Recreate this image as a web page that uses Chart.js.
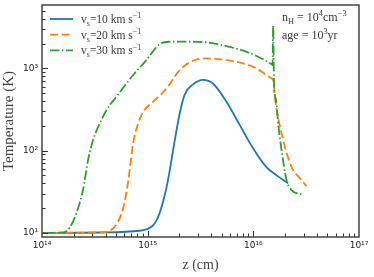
<!DOCTYPE html>
<html><head><meta charset="utf-8">
<script src="https://cdn.jsdelivr.net/npm/chart.js@4.4.1/dist/chart.umd.min.js"></script>
<style>html,body{margin:0;padding:0;background:#fff;overflow:hidden}</style>
</head><body>
<canvas id="c" width="374" height="277"></canvas>
<script>
// ---- data ----
const shockSpeeds = [10, 20, 30];
const zBlue = [1e14, 3.5e14, 8.4e14, 9.7e14, 1.05e15, 1.125e15, 1.2e15, 1.30e15, 1.4e15, 1.51e15, 1.62e15, 1.74e15, 2.01e15, 2.24e15, 2.69e15, 3.35e15, 4.17e15, 5.57e15, 7.45e15, 9.97e15, 1.33e16, 1.66e16, 2.14e16];
const tBlue = [10, 10.1, 10.6, 11.0, 11.5, 12.3, 13.9, 17.5, 24, 36, 58, 101, 283, 480, 640, 725, 650, 392, 204, 106, 63, 50, 40];
const zOrange = [1e14, 3.5e14, 4.38e14, 5.06e14, 5.85e14, 6.53e14, 7.28e14, 8.12e14, 9.06e14, 1.125e15, 1.51e15, 2.01e15, 2.69e15, 3.60e15, 5.57e15, 8.02e15, 1.07e16, 1.33e16, 1.49e16, 1.54e16, 1.61e16, 1.85e16, 2.30e16, 2.76e16, 3.19e16];
const tOrange = [10, 10.1, 10.6, 12.7, 19.8, 41.7, 122, 214, 296, 393, 571, 955, 1240, 1320, 1260, 1150, 1000, 830, 755, 720, 412, 162, 63, 46, 37];
const zGreen = [1e14, 1.58e14, 1.83e14, 2.11e14, 2.44e14, 2.73e14, 3.04e14, 3.52e14, 4.07e14, 5.06e14, 7.28e14, 9.73e14, 1.30e15, 1.62e15, 2.33e15, 3.60e15, 5.57e15, 8.63e15, 1.24e16, 1.49e16, 1.52e16, 1.54e16, 1.57e16, 1.64e16, 1.73e16, 1.85e16, 2.06e16, 2.30e16, 2.87e16];
const tGreen = [10, 10.1, 11.6, 17.2, 33, 77, 134, 214, 310, 452, 830, 1260, 1980, 2110, 2120, 2070, 1860, 1590, 1290, 1120, 1100, 3330, 658, 412, 195, 101, 44, 33, 29.3];

const xMajor = [1e14, 1e15, 1e16, 1e17];
const xTickLabels = ['10¹⁴', '10¹⁵', '10¹⁶', '10¹⁷'];
const yMajor = [10, 100, 1000];
const yTickLabels = ['10¹', '10²', '10³'];
const xMinor = [];
[14, 15, 16].forEach(d => { for (let m = 2; m <= 9; m++) xMinor.push(m * Math.pow(10, d)); });
const yMinor = [];
[1, 2, 3].forEach(d => { for (let m = 2; m <= 9; m++) { const v = m * Math.pow(10, d); if (v <= 5900) yMinor.push(v); } });
const xTicks = xMajor.concat(xMinor).sort((a, b) => a - b);
const yTicks = yMajor.concat(yMinor).sort((a, b) => a - b);

const colors = ['#1f77b4', '#ff7f0e', '#2ca02c'];
const dashes = [[], [8, 3.5], [9.5, 2.5, 1.5, 2.5]];
const SERIF = '"Liberation Serif", "DejaVu Serif", serif';

function pts(zs, ts) { return zs.map((z, i) => ({ x: z, y: ts[i] })); }

function rich(ctx, parts, x, y, size) {
  let cx = x;
  parts.forEach(p => {
    const small = p.sub || p.sup;
    const s = small ? size * 0.7 : size;
    ctx.font = s + 'px ' + SERIF;
    const dy = p.sub ? size * 0.25 : (p.sup ? -size * 0.4 : 0);
    ctx.fillText(p.t, cx, y + dy);
    cx += ctx.measureText(p.t).width;
  });
}

const frameTicks = {
  id: 'frameTicks',
  afterDatasetsDraw(chart) {
    const { ctx, chartArea: a, scales: { x, y } } = chart;
    ctx.save();
    ctx.strokeStyle = '#333';
    ctx.lineWidth = 1;
    ctx.beginPath();
    xTicks.forEach(v => {
      if (v <= 1e14 || v >= 1e17) return;
      const px = Math.round(x.getPixelForValue(v)) + 0.5;
      const len = xMajor.includes(v) ? 6 : 3.5;
      ctx.moveTo(px, a.bottom); ctx.lineTo(px, a.bottom - len);
    });
    yTicks.forEach(v => {
      const py = Math.round(y.getPixelForValue(v)) + 0.5;
      const len = yMajor.includes(v) ? 6 : 3.5;
      ctx.moveTo(a.left, py); ctx.lineTo(a.left + len, py);
    });
    ctx.stroke();
    ctx.strokeStyle = '#444';
    ctx.lineWidth = 1.5;
    ctx.strokeRect(a.left, a.top, a.right - a.left, a.bottom - a.top);
    ctx.restore();
  }
};

const legendAndNotes = {
  id: 'legendAndNotes',
  afterDraw(chart) {
    const { ctx, chartArea: a } = chart;
    ctx.save();
    ctx.textBaseline = 'alphabetic';
    ctx.fillStyle = '#3a3a3a';
    chart.data.datasets.forEach((ds, i) => {
      const ly = 19 + i * 15.7;
      ctx.strokeStyle = ds.borderColor;
      ctx.lineWidth = ds.borderWidth;
      ctx.setLineDash(ds.borderDash || []);
      ctx.beginPath();
      ctx.moveTo(a.left + 8, ly); ctx.lineTo(a.left + 31, ly);
      ctx.stroke();
      ctx.setLineDash([]);
      rich(ctx, [{ t: 'v' }, { t: 's', sub: true }, { t: '=' + shockSpeeds[i] + ' km s' }, { t: '−1', sup: true }], a.left + 39, ly + 4, 11.5);
    });
    rich(ctx, [{ t: 'n' }, { t: 'H', sub: true }, { t: ' = 10' }, { t: '4', sup: true }, { t: 'cm' }, { t: '−3', sup: true }], 282, 21, 12);
    rich(ctx, [{ t: 'age = 10' }, { t: '3', sup: true }, { t: 'yr' }], 282, 39, 12);
    ctx.restore();
  }
};

new Chart(document.getElementById('c'), {
  type: 'line',
  data: {
    datasets: shockSpeeds.map((v, i) => ({
      label: 'vs=' + v + ' km s-1',
      data: [pts(zBlue, tBlue), pts(zOrange, tOrange), pts(zGreen, tGreen)][i],
      borderColor: colors[i],
      borderWidth: 1.8,
      borderDash: dashes[i],
      pointRadius: 0,
      fill: false,
      cubicInterpolationMode: 'monotone',
      order: 2 - i
    }))
  },
  options: {
    responsive: false,
    animation: false,
    devicePixelRatio: 1,
    layout: { padding: { left: 0, right: 15, top: 5, bottom: 0 } },
    plugins: { legend: { display: false }, tooltip: { enabled: false } },
    scales: {
      x: {
        type: 'logarithmic', min: 1e14, max: 1e17,
        afterBuildTicks(s) { s.ticks = xTicks.map(v => ({ value: v })); },
        afterFit(s) { s.height = 40; s.paddingLeft = 0; s.paddingRight = 0; },
        grid: { display: false, drawTicks: false },
        border: { display: false },
        ticks: {
          autoSkip: false, maxRotation: 0, padding: 3, color: '#222',
          font: { family: 'DejaVu Sans', size: 9 },
          callback(v) { const i = xMajor.indexOf(v); return i >= 0 ? xTickLabels[i] : ''; }
        },
        title: { display: true, text: 'z (cm)', color: '#444', font: { family: SERIF, size: 14 }, padding: { top: 0, bottom: 3 } }
      },
      y: {
        type: 'logarithmic', min: 8.9, max: 5900,
        afterBuildTicks(s) { s.ticks = yTicks.map(v => ({ value: v })); },
        afterFit(s) { s.width = 42; s.paddingTop = 0; s.paddingBottom = 0; },
        grid: { display: false, drawTicks: false },
        border: { display: false },
        ticks: {
          autoSkip: false, padding: 4, color: '#222',
          font: { family: 'DejaVu Sans', size: 9 },
          callback(v) { const i = yMajor.indexOf(v); return i >= 0 ? yTickLabels[i] : ''; }
        },
        title: { display: true, text: 'Temperature (K)', color: '#444', font: { family: SERIF, size: 15 }, padding: { top: 0, bottom: 0 } }
      }
    }
  },
  plugins: [frameTicks, legendAndNotes]
});
</script>
</body></html>
